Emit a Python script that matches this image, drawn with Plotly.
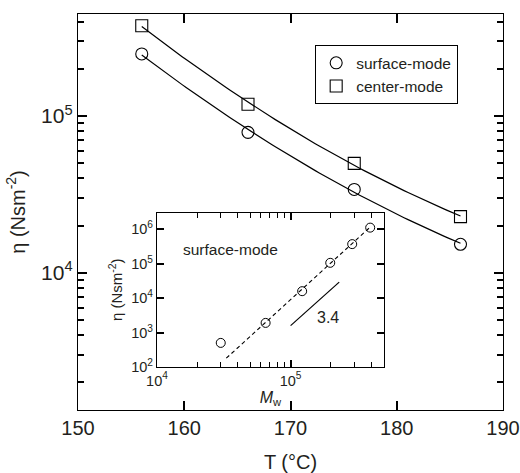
import numpy as np
import plotly.graph_objects as go

# ---- data ----
T = [156, 166, 176, 186]
eta_surface = [2.49e5, 7.87e4, 3.40e4, 1.52e4]
eta_center = [3.77e5, 1.19e5, 4.99e4, 2.28e4]

inset_mw = [3.0e4, 6.5e4, 1.22e5, 1.98e5, 2.89e5, 3.94e5]
inset_eta = [5.0e2, 1.9e3, 1.58e4, 1.05e5, 3.66e5, 1.1e6]
dash_mw = [3.3e4, 4.0e5]
dash_eta = [1.8e2, 1.2e6]
slope_mw = [1.0e5, 2.31e5]
slope_eta = [1.58e3, 2.9e4]

main_x_ticks = [150, 160, 170, 180, 190]
main_y_minor = [2e3, 3e3, 4e3, 5e3, 6e3, 7e3, 8e3, 9e3,
                2e4, 3e4, 4e4, 5e4, 6e4, 7e4, 8e4, 9e4,
                2e5, 3e5, 4e5]
inset_x_minor = [2e4, 3e4, 4e4, 5e4, 6e4, 7e4, 8e4, 9e4, 2e5, 3e5, 4e5]

FONT = "Liberation Sans, Arial, Helvetica, sans-serif"
TXT = "#231f20"
INK = "black"


def fit_curve(x, y):
    c = np.polyfit(x, np.log10(y), 2)
    xs = np.linspace(min(x), max(x), 80)
    return xs, 10 ** np.polyval(c, xs)


fig = go.Figure()

xs, ys = fit_curve(T, eta_center)
fig.add_trace(go.Scatter(x=xs, y=ys, mode="lines", line=dict(color=INK, width=1.2),
                         showlegend=False, hoverinfo="skip"))
xs, ys = fit_curve(T, eta_surface)
fig.add_trace(go.Scatter(x=xs, y=ys, mode="lines", line=dict(color=INK, width=1.2),
                         showlegend=False, hoverinfo="skip"))

fig.add_trace(go.Scatter(x=T, y=eta_surface, mode="markers", name="surface-mode",
                         marker=dict(symbol="circle-open", size=12, color=INK,
                                     line=dict(width=1.1))))
fig.add_trace(go.Scatter(x=T, y=eta_center, mode="markers", name="center-mode",
                         marker=dict(symbol="square-open", size=12, color=INK,
                                     line=dict(width=1.1))))

# inset
fig.add_trace(go.Scatter(x=dash_mw, y=dash_eta, mode="lines", xaxis="x2", yaxis="y2",
                         line=dict(color=INK, width=1.1, dash="4px,3px"),
                         showlegend=False, hoverinfo="skip"))
fig.add_trace(go.Scatter(x=slope_mw, y=slope_eta, mode="lines", xaxis="x2", yaxis="y2",
                         line=dict(color=INK, width=1.2),
                         showlegend=False, hoverinfo="skip"))
fig.add_trace(go.Scatter(x=inset_mw, y=inset_eta, mode="markers", xaxis="x2", yaxis="y2",
                         marker=dict(symbol="circle-open", size=9, color=INK,
                                     line=dict(width=1.0)),
                         showlegend=False))

axis_common = dict(showline=True, linecolor=INK, linewidth=1.4, mirror="ticks",
                   ticks="inside", tickcolor=INK, showgrid=False, zeroline=False,
                   automargin=False,
                   tickfont=dict(family=FONT, size=20, color=TXT))

main_y_range = [np.log10(1331), np.log10(4.48e5)]
inset_x_range = [4, np.log10(5e5)]

fig.update_layout(
    width=520, height=473,
    margin=dict(l=78, r=17, t=14, b=63),
    paper_bgcolor="white", plot_bgcolor="white",
    font=dict(family=FONT, color=TXT),
    xaxis=dict(axis_common, range=[150, 190], tickmode="array", tickvals=main_x_ticks,
               ticklen=9, tickwidth=1.6, domain=[0, 1],
               title=dict(text="T (°C)", font=dict(family=FONT, size=20, color=TXT),
                          standoff=22)),
    yaxis=dict(axis_common, type="log", range=main_y_range,
               tickmode="array", tickvals=[1e4, 1e5], ticktext=["10<sup>4</sup>", "10<sup>5</sup>"],
               ticklen=9, tickwidth=1.6, domain=[0, 1],
               tickfont=dict(family=FONT, size=21, color=TXT),
               minor=dict(tickmode="array", tickvals=main_y_minor, ticks="inside",
                          ticklen=6, tickwidth=1.5, tickcolor=INK, showgrid=False),
               title=dict(text="η (Nsm<sup>-2</sup>)",
                          font=dict(family=FONT, size=20, color=TXT), standoff=10)),
    xaxis2=dict(axis_common, type="log", range=inset_x_range, anchor="y2",
                domain=[0.1859, 0.72], tickmode="array", tickvals=[1e4, 1e5],
                ticktext=["10<sup>4</sup>", "10<sup>5</sup>"],
                ticklen=7, tickwidth=1.5, linewidth=1.3,
                tickfont=dict(family=FONT, size=14.5, color=TXT),
                minor=dict(tickmode="array", tickvals=inset_x_minor, ticks="inside",
                           ticklen=5, tickwidth=1.4, tickcolor=INK, showgrid=False),
                title=dict(text="<i>M</i><sub>w</sub>",
                           font=dict(family=FONT, size=16, color=TXT), standoff=0)),
    yaxis2=dict(axis_common, type="log", range=[2, 6.48], anchor="x2",
                domain=[0.1086, 0.4987], tickmode="array",
                tickvals=[1e2, 1e3, 1e4, 1e5, 1e6],
                ticktext=["10<sup>2</sup>", "10<sup>3</sup>", "10<sup>4</sup>",
                          "10<sup>5</sup>", "10<sup>6</sup>"],
                ticklen=7, tickwidth=1.5, linewidth=1.3,
                tickfont=dict(family=FONT, size=14.5, color=TXT),
                title=dict(text="η (Nsm<sup>-2</sup>)",
                           font=dict(family=FONT, size=15, color=TXT), standoff=4)),
    legend=dict(x=0.5576, y=0.9217, xanchor="left", yanchor="top",
                bordercolor=INK, borderwidth=1.2, bgcolor="white",
                font=dict(family=FONT, size=15.5, color=TXT), itemwidth=30),
    annotations=[
        dict(text="surface-mode", xref="x2 domain", yref="y2 domain", x=0.106, y=0.761,
             xanchor="left", yanchor="middle", showarrow=False,
             font=dict(family=FONT, size=15.5, color=TXT)),
        dict(text="3.4", xref="x2 domain", yref="y2 domain", x=0.753, y=0.32,
             xanchor="center", yanchor="middle", showarrow=False,
             font=dict(family=FONT, size=16, color=TXT)),
    ],
)

fig.write_html("out.html")
